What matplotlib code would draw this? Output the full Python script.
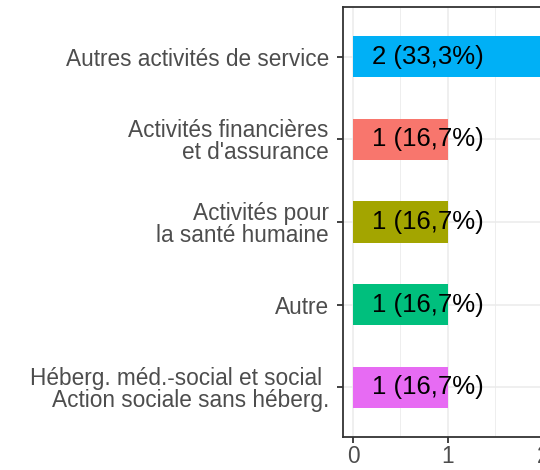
import matplotlib as mpl
from matplotlib import pyplot as plt

mpl.rcParams['font.family'] = ['Liberation Sans', 'DejaVu Sans']

# categories from top to bottom
categories = ["Autres activités de service",
              "Activités financières\net d'assurance",
              "Activités pour\nla santé humaine",
              "Autre",
              "Héberg. méd.-social et social \nAction sociale sans héberg."]
counts = [2, 1, 1, 1, 1]
labels = ["2 (33,3%)", "1 (16,7%)", "1 (16,7%)", "1 (16,7%)", "1 (16,7%)"]
colors = ["#00B0F6", "#F8766D", "#A3A500", "#00BF7D", "#E76BF3"]

fig = plt.figure(figsize=(5.4, 4.7), dpi=100)
ax = fig.add_axes([0.636, 0.070, 0.387, 0.915])

n = len(categories)
ypos = [n - i for i in range(n)]
ax.barh(ypos, counts, height=0.5, color=colors, zorder=2)
for y, lab in zip(ypos, labels):
    ax.text(0.2, y, lab, ha='left', va='center', fontsize=18.5, color='black', zorder=3)

ax.set_xlim(-0.1, 2.1)
ax.set_ylim(0.4, n + 0.6)
ax.set_xticks([0, 1, 2])
ax.set_xticks([0.5, 1.5], minor=True)
ax.set_yticks(ypos)
ax.set_yticklabels(categories, fontsize=16.3, color='#4D4D4D', ha='right',
                   multialignment='right', linespacing=0.95)
ax.tick_params(axis='x', labelsize=16.3, labelcolor='#4D4D4D', length=4, width=1.3, color='#333333', pad=2)
ax.tick_params(axis='y', length=4, width=1.3, color='#333333', pad=6.5)
ax.tick_params(which='minor', length=0)
ax.grid(True, which='major', color='#EBEBEB', linewidth=1.1, zorder=0)
ax.grid(True, which='minor', axis='x', color='#EBEBEB', linewidth=0.6, zorder=0)
for s in ax.spines.values():
    s.set_color('#333333')
    s.set_linewidth(1.3)

fig.savefig('out.png', dpi=100)
